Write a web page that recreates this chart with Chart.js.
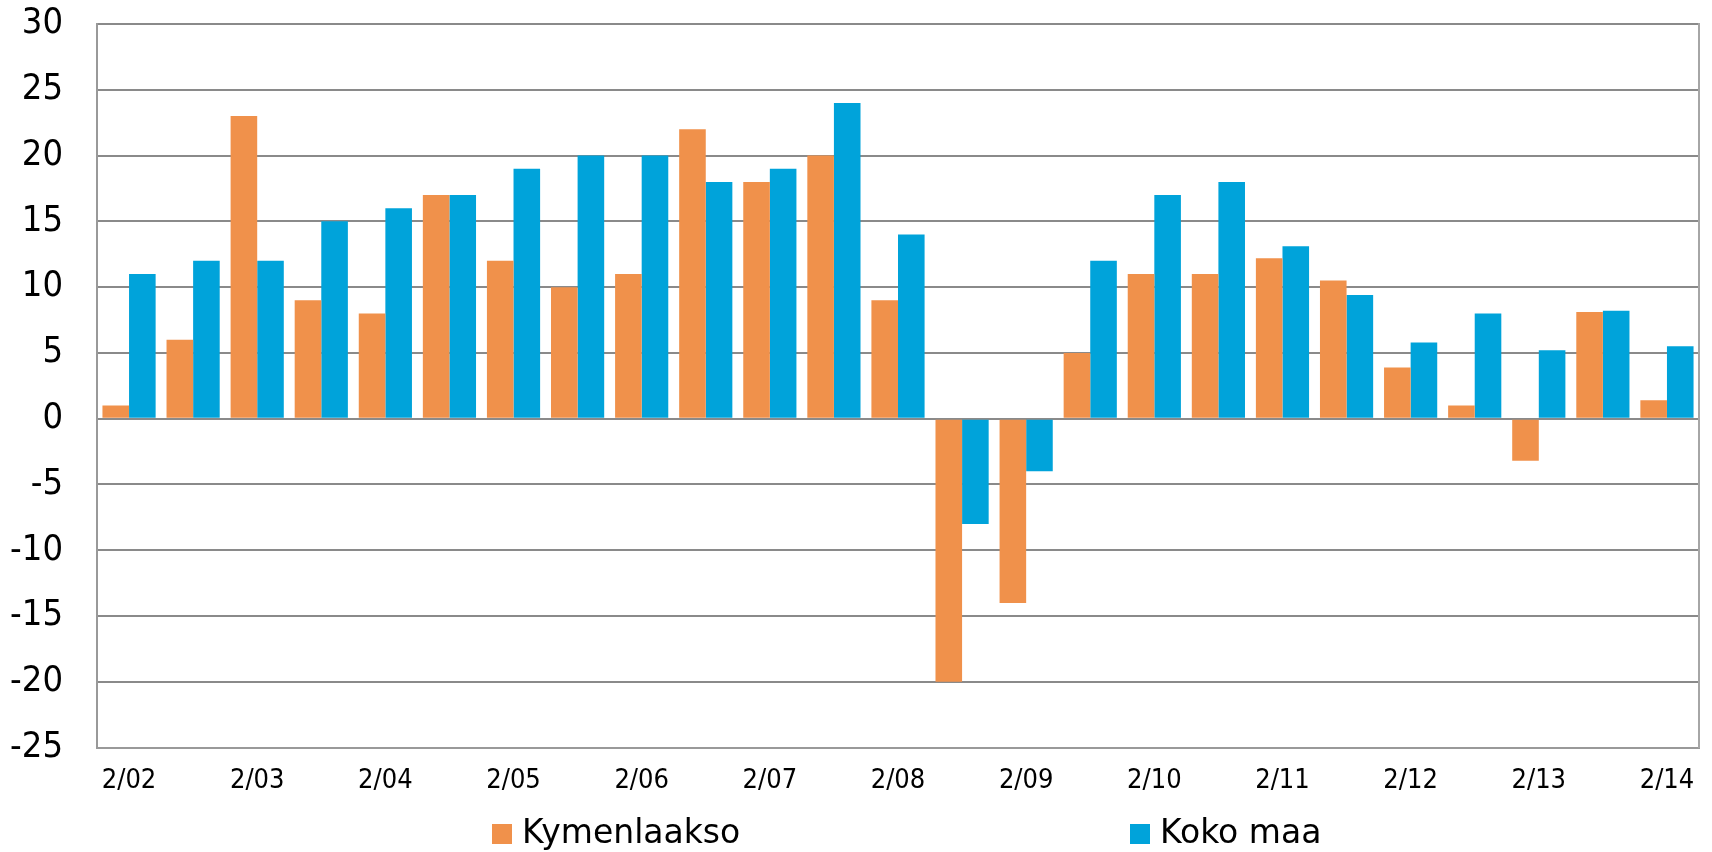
<!DOCTYPE html>
<html>
<head>
<meta charset="utf-8">
<script src="https://cdn.jsdelivr.net/npm/chart.js@4"></script>
<style>
  html, body { margin: 0; padding: 0; background: #fff; }
  #wrap { width: 1712px; height: 852px; }
</style>
</head>
<body>
<div id="wrap"><canvas id="barChart"></canvas></div>
<script>
var labels = ['2/02', '', '2/03', '', '2/04', '', '2/05', '', '2/06', '', '2/07', '', '2/08',
  '', '2/09', '', '2/10', '', '2/11', '', '2/12', '', '2/13', '', '2/14'];
var kymenlaakso = [1, 6, 23, 9, 8, 17, 12, 10, 11, 22, 18, 20, 9,
  -20, -14, 5, 11, 11, 12.2, 10.5, 3.9, 1, -3.2, 8.1, 1.4];
var kokoMaa = [11, 12, 12, 15, 16, 17, 19, 20, 20, 18, 19, 24, 14,
  -8, -4, 12, 17, 18, 13.1, 9.4, 5.8, 8, 5.2, 8.2, 5.5];
var seriesNames = ['Kymenlaakso', 'Koko maa'];
var yTicks = { min: -25, max: 30, step: 5 };

var FONT = '"DejaVu Sans Condensed", "DejaVu Sans", sans-serif';
var orange = '#F0914B';
var blue = '#00A3DA';

// legend drawn by hand, the two items sit far apart like in the original
var wideLegend = {
  id: 'wideLegend',
  afterDraw: function(chart) {
    var ctx = chart.ctx;
    var area = chart.chartArea;
    var items = chart.data.datasets;
    var offsets = [395, 1033];
    ctx.save();
    ctx.font = '33px "DejaVu Sans", sans-serif';
    ctx.textBaseline = 'alphabetic';
    ctx.textAlign = 'left';
    items.forEach(function(ds, i) {
      var x = area.left + offsets[i];
      ctx.fillStyle = ds.backgroundColor;
      ctx.fillRect(x, 824, 20, 20);
      ctx.fillStyle = '#000';
      ctx.fillText(ds.label, x + 30, 843);
    });
    ctx.restore();
  }
};

new Chart(document.getElementById('barChart'), {
  type: 'bar',
  data: {
    labels: labels,
    datasets: [{
      label: seriesNames[0],
      data: kymenlaakso,
      backgroundColor: orange,
      barPercentage: 1,
      categoryPercentage: 0.83
    }, {
      label: seriesNames[1],
      data: kokoMaa,
      backgroundColor: blue,
      barPercentage: 1,
      categoryPercentage: 0.83
    }]
  },
  options: {
    responsive: true,
    maintainAspectRatio: false,
    animation: false,
    layout: {
      padding: { top: 24, right: 13, bottom: 38, left: 0 }
    },
    plugins: {
      legend: { display: false },
      tooltip: { enabled: false }
    },
    scales: {
      x: {
        grid: { display: false, drawTicks: false },
        border: { color: '#999', width: 2 },
        ticks: {
          autoSkip: false,
          maxRotation: 0,
          padding: 17,
          color: '#000',
          font: { family: FONT, size: 27 }
        }
      },
      y: {
        min: yTicks.min,
        max: yTicks.max,
        afterFit: function(scale) {
          scale.width = 97;
          scale.paddingTop = 0;
          scale.paddingBottom = 0;
        },
        grid: { color: '#8a8a8a', lineWidth: 2, drawTicks: false },
        border: { color: '#999', width: 2 },
        ticks: {
          stepSize: yTicks.step,
          padding: 34,
          color: '#000',
          font: { family: FONT, size: 36 }
        }
      },
      yRight: {
        position: 'right',
        afterFit: function(scale) { scale.width = 0; },
        grid: { drawOnChartArea: false, drawTicks: false },
        border: { color: '#a6a6a6', width: 2 },
        ticks: { display: false }
      }
    }
  },
  plugins: [wideLegend]
});
</script>
</body>
</html>
